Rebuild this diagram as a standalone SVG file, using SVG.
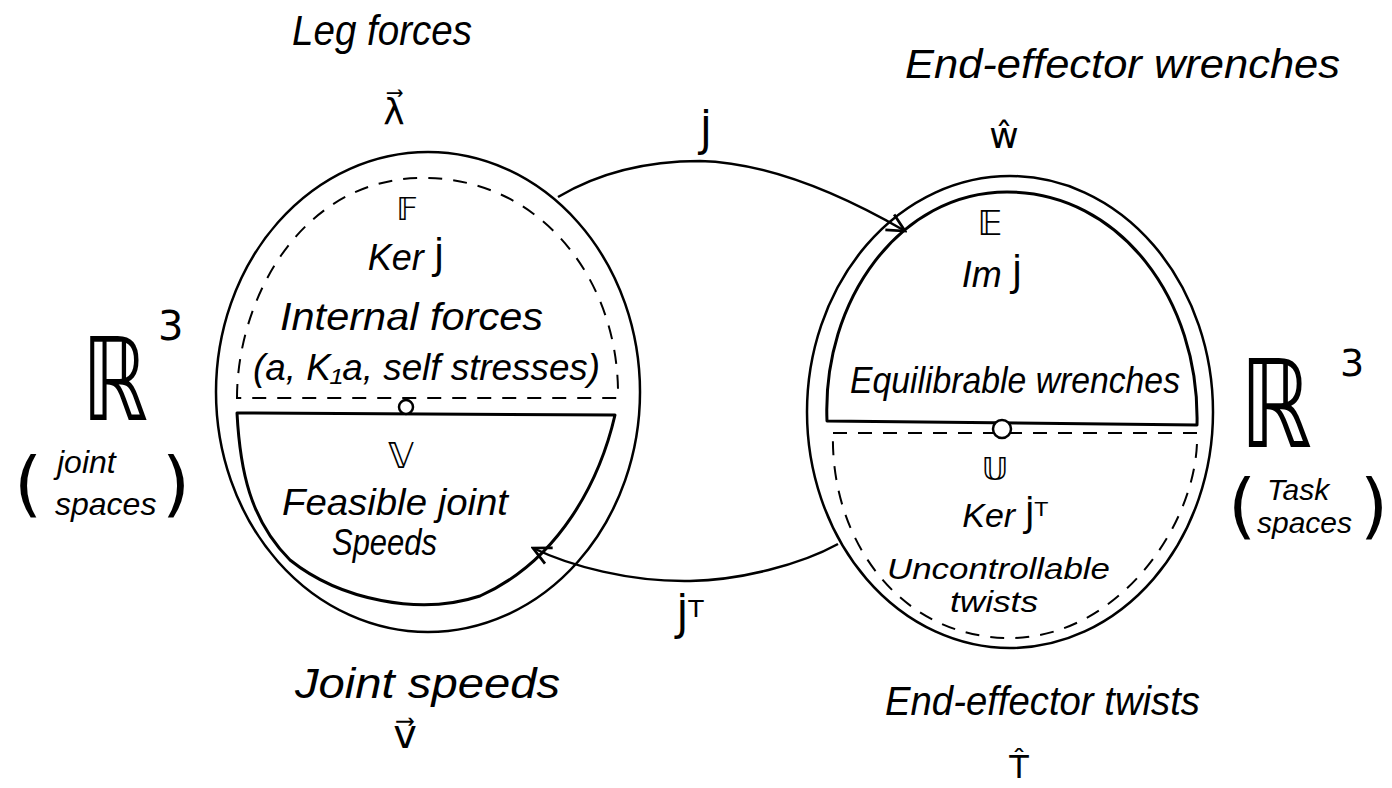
<svg xmlns="http://www.w3.org/2000/svg" width="1392" height="788" viewBox="0 0 1392 788">
<style>
  .solid { fill: none; stroke: #000; stroke-width: 2.5; stroke-linejoin: round; }
  .thick { fill: none; stroke: #000; stroke-width: 3; stroke-linejoin: round; }
  .dash { fill: none; stroke: #000; stroke-width: 2; stroke-dasharray: 14 11; }
  .conn { fill: none; stroke: #000; stroke-width: 2.5; }
  .dot { fill: #fff; stroke: #000; stroke-width: 2.5; }
  text { font-family: "Liberation Sans", "DejaVu Sans", sans-serif; font-style: italic; fill: #000; }
  .math { font-family: "DejaVu Sans", "Noto Sans", sans-serif; font-style: normal; }
  .c { text-anchor: middle; }
</style>
<defs>
  <marker id="arr" viewBox="0 0 20 20" refX="18" refY="10" markerWidth="22" markerHeight="22" markerUnits="userSpaceOnUse" orient="auto">
    <path d="M2,2 L18,10 L2,18" fill="none" stroke="#000" stroke-width="2.5"/>
  </marker>
</defs>
<rect width="1392" height="788" fill="#fff"/>

<g id="connectors">
  <path class="conn" d="M558,197 C600,172 650,161 700,161 C780,163 860,205 905,231" marker-end="url(#arr)"/>
  <path class="conn" d="M838,544 C800,565 740,580 690,581 C630,582 570,566 533,548" marker-end="url(#arr)"/>
  <text class="math c" x="706" y="146" font-size="40">J̇</text>
  <text class="math c" x="690" y="630" font-size="40">J̇ᵀ</text>
</g>

<g id="joint-space">
  <ellipse class="solid" cx="428" cy="392" rx="212" ry="240"/>
  <path class="dash" d="M237,398 C237,300 300,180 420,178 C540,176 620,280 618,398 Z"/>
  <path class="thick" d="M237,413 L615,415 C600,480 560,560 480,596 C420,616 340,600 290,560 C250,520 240,470 237,413 Z"/>
  <circle class="dot" cx="406" cy="407" r="7"/>
  <text class="math c" x="407" y="220" font-size="32">𝔽</text>
  <text class="c" x="406" y="270" font-size="36">Ker <tspan class="math">J̇</tspan></text>
  <text x="280" y="330" font-size="38" textLength="263" lengthAdjust="spacingAndGlyphs">Internal forces</text>
  <text x="253" y="380" font-size="36" textLength="347" lengthAdjust="spacingAndGlyphs">(a, K₁a, self stresses)</text>
  <text class="math c" x="401" y="468" font-size="36">𝕍</text>
  <text x="282" y="515" font-size="36" textLength="226" lengthAdjust="spacingAndGlyphs">Feasible joint</text>
  <text x="332" y="555" font-size="36" textLength="105" lengthAdjust="spacingAndGlyphs">Speeds</text>
</g>

<g id="task-space">
  <ellipse class="solid" cx="1010" cy="412" rx="203" ry="236"/>
  <path class="thick" d="M827,421 C822,300 900,192 1007,192 C1120,192 1200,300 1197,425 Z"/>
  <path class="dash" d="M833,433 L1197,433 C1200,520 1120,638 1010,638 C900,638 830,540 833,433 Z"/>
  <circle class="dot" cx="1002" cy="429" r="9"/>
  <text class="math c" x="990" y="235" font-size="34">𝔼</text>
  <text class="c" x="992" y="287" font-size="36">Im <tspan class="math">J̇</tspan></text>
  <text x="850" y="393" font-size="36" textLength="330" lengthAdjust="spacingAndGlyphs">Equilibrable wrenches</text>
  <text class="math c" x="995" y="480" font-size="32">𝕌</text>
  <text class="c" x="1005" y="527" font-size="34">Ker <tspan class="math">J̇ᵀ</tspan></text>
  <text x="887" y="579" font-size="30" textLength="223" lengthAdjust="spacingAndGlyphs">Uncontrollable</text>
  <text x="950" y="612" font-size="30" textLength="88" lengthAdjust="spacingAndGlyphs">twists</text>
</g>

<g id="leg-forces-label">
  <text x="292" y="45" font-size="42" textLength="180" lengthAdjust="spacingAndGlyphs">Leg forces</text>
  <text class="math c" x="394" y="124" font-size="36">λ⃗</text>
</g>

<g id="wrenches-label">
  <text x="905" y="78" font-size="40" textLength="435" lengthAdjust="spacingAndGlyphs">End-effector wrenches</text>
  <text class="math c" x="1004" y="148" font-size="36">ŵ</text>
</g>

<g id="joint-speeds-label">
  <text x="295" y="698" font-size="42" textLength="265" lengthAdjust="spacingAndGlyphs">Joint speeds</text>
  <text class="math c" x="405" y="748" font-size="40">v⃗</text>
</g>

<g id="twists-label">
  <text x="885" y="715" font-size="40" textLength="315" lengthAdjust="spacingAndGlyphs">End-effector twists</text>
  <text class="math c" x="1019" y="778" font-size="32">T̂</text>
</g>

<g id="joint-R3">
  <text class="math" x="82" y="420" font-size="115" textLength="66" lengthAdjust="spacingAndGlyphs">ℝ</text>
  <text class="math" x="158" y="340" font-size="40">3</text>
  <text class="math" x="14" y="508" font-size="72">(</text>
  <text x="57" y="473" font-size="32">joint</text>
  <text x="55" y="515" font-size="32">spaces</text>
  <text class="math" x="162" y="508" font-size="72">)</text>
</g>

<g id="task-R3">
  <text class="math" x="1240" y="447" font-size="122" textLength="72" lengthAdjust="spacingAndGlyphs">ℝ</text>
  <text class="math" x="1340" y="376" font-size="38">3</text>
  <text class="math" x="1228" y="530" font-size="72">(</text>
  <text x="1267" y="500" font-size="30">Task</text>
  <text x="1257" y="533" font-size="30">spaces</text>
  <text class="math" x="1360" y="530" font-size="72">)</text>
</g>
</svg>
